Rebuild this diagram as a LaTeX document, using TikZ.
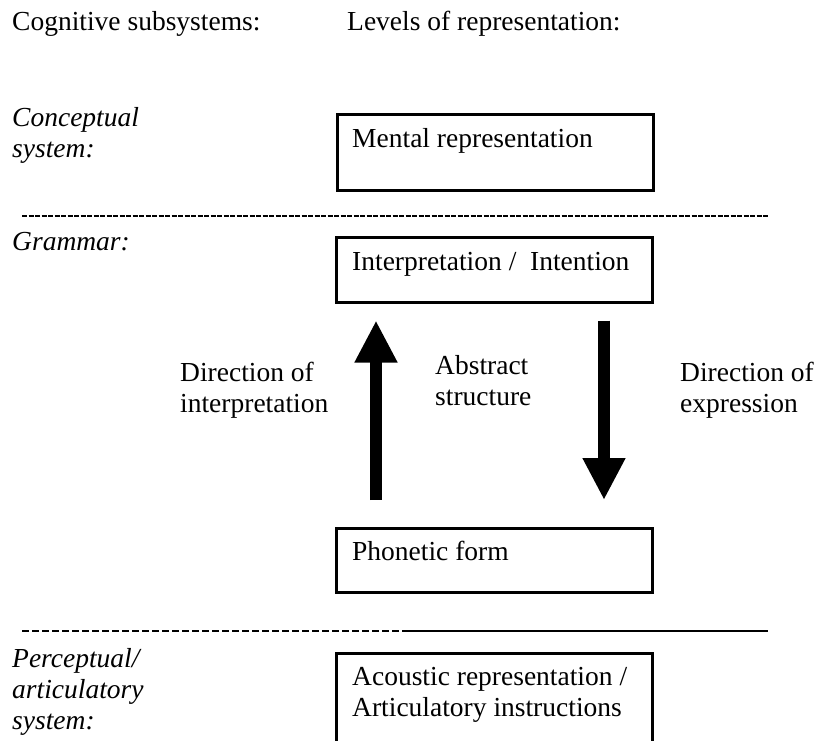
\documentclass[tikz,border=0pt]{standalone}
\usepackage{fontspec}
\setmainfont{Liberation Serif}
\usetikzlibrary{arrows.meta}

\begin{document}
\begin{tikzpicture}[x=1pt,y=-1pt,
    lvl/.style={draw,line width=2.5pt,anchor=north west,minimum width=316pt},
    txt/.style={anchor=base west,inner sep=0pt,align=left,font=\fontsize{27.5}{31}\selectfont},
    sys/.style={txt,font=\fontsize{27.5}{31}\selectfont\itshape},
    bigarr/.style={line width=12pt,-{Triangle[length=42pt,width=40pt]}}]
  \useasboundingbox (0,0) rectangle (816,740);
  \clip (0,0) rectangle (816,740);
  % headings
  \node[txt](cog) at (12,30){Cognitive subsystems:};
  \node[txt](lev) at (347,30){Levels of representation:};
  % subsystems (base = last line)
  \node[sys](conc) at (12,157){Conceptual\\system:};
  \node[sys](gram) at (12,250){Grammar:};
  \node[sys](perc) at (12,729){Perceptual/\\articulatory\\system:};
  % levels
  \node[lvl,minimum height=76pt](ment) at (336,113){};
  \node[lvl,minimum height=65pt](intp) at (335,236){};
  \node[lvl,minimum height=64pt](phon) at (335,527){};
  \node[lvl,minimum height=110pt](acou) at (335,652){};
  \node[txt](mentT) at (352,147){Mental representation};
  \node[txt](intpT) at (352,270){Interpretation /\ \ Intention};
  \node[txt](phonT) at (352,560){Phonetic form};
  \node[txt](acouT) at (352,716){Acoustic representation /\\Articulatory instructions};
  % directions
  \node[txt](dirI) at (180,412){Direction of\\interpretation};
  \node[txt](abst) at (435,405){Abstract\\structure};
  \node[txt](dirE) at (680,412){Direction of\\expression};
  \coordinate (upx) at (376,0);
  \coordinate (dnx) at (604,0);
  \draw[bigarr,shorten <=27pt,shorten >=17pt](phon.north -| upx)--(intp.south -| upx);
  \draw[bigarr,shorten <=17pt,shorten >=27pt](intp.south -| dnx)--(phon.north -| dnx);
  % borders between subsystems
  \coordinate (l1) at (22,216);
  \coordinate (r1) at (768,216);
  \coordinate (l2) at (22,631);
  \coordinate (m2) at (402,631);
  \coordinate (r2) at (768,631);
  \draw[line width=2pt,dash pattern=on 5pt off 1.5pt](l1)--(r1);
  \draw[line width=2pt,dash pattern=on 7pt off 3pt](l2)--(m2);
  \draw[line width=2pt](m2)--(r2);
\end{tikzpicture}
\end{document}
